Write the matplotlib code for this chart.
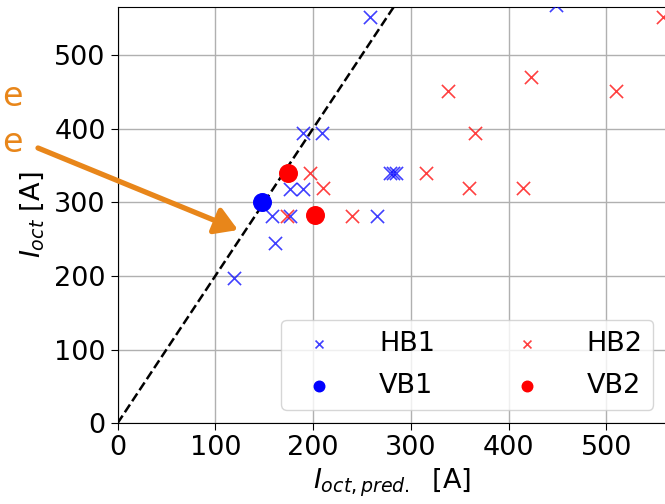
import matplotlib.pyplot as plt
from matplotlib.patches import FancyArrowPatch

# measured vs. predicted octave current, per bridge type
hb1_pred = [119, 161, 158, 176, 265, 176, 190, 190, 209, 279, 282, 285, 258, 448]
hb1_meas = [197, 245, 281, 281, 281, 318, 318, 394, 394, 340, 340, 340, 552, 568]

hb2_pred = [197, 210, 173, 240, 316, 359, 415, 338, 366, 423, 510, 558]
hb2_meas = [340, 319, 281, 281, 340, 319, 319, 451, 394, 470, 451, 552]

vb1_pred = [148]
vb1_meas = [301]

vb2_pred = [174, 202]
vb2_meas = [340, 283]

ref_line = [0, 600]  # I_oct = 2 * I_oct,pred.

W, H = 665, 504
fig = plt.figure(figsize=(W / 100, H / 100), dpi=100)
ax = fig.add_axes([117.5 / W, 80.7 / H, (667 - 117.5) / W, 416.3 / H])

h_hb1 = ax.scatter(hb1_pred, hb1_meas, marker='x', s=90, color='blue', alpha=0.75,
                   linewidths=1.2, label='HB1', zorder=3)
h_hb2 = ax.scatter(hb2_pred, hb2_meas, marker='x', s=90, color='red', alpha=0.75,
                   linewidths=1.2, label='HB2', zorder=3)
h_vb1 = ax.scatter(vb1_pred, vb1_meas, marker='o', s=160, color='blue', label='VB1', zorder=4)
h_vb2 = ax.scatter(vb2_pred, vb2_meas, marker='o', s=160, color='red', label='VB2', zorder=4)
ax.plot(ref_line, [2 * v for v in ref_line], 'k--', lw=1.8, zorder=2)

ax.set_xlim(0, 562)
ax.set_ylim(0, 565)
ax.set_xticks([0, 100, 200, 300, 400, 500])
ax.set_yticks([0, 100, 200, 300, 400, 500])
ax.tick_params(labelsize=19.5, length=5)
ax.grid(True, color='#b0b0b0', lw=1)
ax.set_axisbelow(True)
ax.spines['right'].set_visible(False)

ax.set_xlabel(r'$I_{oct,pred.}$  [A]', fontsize=19.5, labelpad=4)
ax.set_ylabel(r'$I_{oct}$ [A]', fontsize=19.5, labelpad=6)

# legend filled column-wise: HB1/VB1 left, HB2/VB2 right
ax.legend([h_hb1, h_vb1, h_hb2, h_vb2], ['HB1', 'VB1', 'HB2', 'VB2'],
          loc='lower right', ncol=2, fontsize=19.5, markerscale=0.6,
          columnspacing=2.4, handletextpad=1.2, labelspacing=0.6)

# overlaid callout arrow and stray text
orange = '#e8861a'
fig.text(12 / W, 1 - 97 / H, 'e', color=orange, fontsize=24, ha='center', va='center')
fig.text(12 / W, 1 - 143 / H, 'e', color=orange, fontsize=24, ha='center', va='center')
arrow = FancyArrowPatch((38 / W, 1 - 148 / H), (238 / W, 1 - 230 / H),
                        transform=fig.transFigure, color=orange, lw=3.8,
                        arrowstyle='-|>,head_length=0.9,head_width=0.55',
                        mutation_scale=15, shrinkA=0, shrinkB=0)
fig.add_artist(arrow)

fig.savefig('out.png', dpi=100)
